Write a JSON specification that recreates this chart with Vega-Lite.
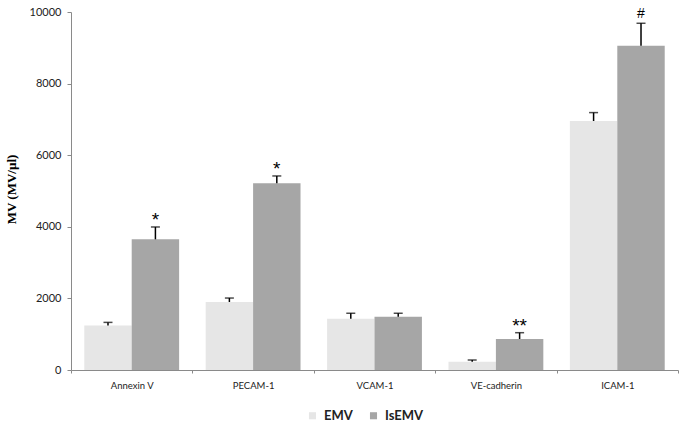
{
  "$schema": "https://vega.github.io/schema/vega-lite/v6.json",
  "autosize": {"type": "none"},
  "padding": {"left": 71, "top": 12, "right": 2, "bottom": 53},
  "width": 607,
  "height": 358,
  "background": "white",
  "config": {"view": {"stroke": null}},
  "data": {
    "values": [
      {"marker": "Annexin V", "group": "EMV", "value": 1240, "upper": 1330, "sig": ""},
      {"marker": "Annexin V", "group": "IsEMV", "value": 3650, "upper": 3995, "sig": "*"},
      {"marker": "PECAM-1", "group": "EMV", "value": 1900, "upper": 2010, "sig": ""},
      {"marker": "PECAM-1", "group": "IsEMV", "value": 5215, "upper": 5420, "sig": "*"},
      {"marker": "VCAM-1", "group": "EMV", "value": 1435, "upper": 1585, "sig": ""},
      {"marker": "VCAM-1", "group": "IsEMV", "value": 1490, "upper": 1585, "sig": ""},
      {"marker": "VE-cadherin", "group": "EMV", "value": 232, "upper": 279, "sig": ""},
      {"marker": "VE-cadherin", "group": "IsEMV", "value": 866, "upper": 1042, "sig": "**"},
      {"marker": "ICAM-1", "group": "EMV", "value": 6955, "upper": 7190, "sig": ""},
      {"marker": "ICAM-1", "group": "IsEMV", "value": 9060, "upper": 9685, "sig": "#"}
    ]
  },
  "encoding": {
    "x": {
      "field": "marker",
      "type": "nominal",
      "sort": ["Annexin V", "PECAM-1", "VCAM-1", "VE-cadherin", "ICAM-1"],
      "scale": {"paddingInner": 0, "paddingOuter": 0},
      "axis": {
        "title": null,
        "labelAngle": 0,
        "labelFont": "Lato",
        "labelFontSize": 9.5,
        "labelColor": "#222",
        "labelPadding": 7,
        "tickBand": "extent",
        "tickSize": 3,
        "tickColor": "#8a8a8a",
        "domainColor": "#8a8a8a",
        "grid": false
      }
    },
    "xOffset": {
      "field": "group",
      "type": "nominal",
      "scale": {"paddingInner": 0, "paddingOuter": 0.28}
    }
  },
  "layer": [
    {
      "mark": {"type": "bar"},
      "encoding": {
        "y": {
          "field": "value",
          "type": "quantitative",
          "scale": {"domain": [0, 10000]},
          "axis": {
            "title": "MV (MV/µl)",
            "titleFont": "Liberation Serif",
            "titleFontSize": 13,
            "titleFontWeight": "bold",
            "titleColor": "black",
            "titleX": -60,
            "titleY": 177,
            "titleAngle": -90,
            "titleBaseline": "middle",
            "titleAlign": "center",
            "values": [0, 2000, 4000, 6000, 8000, 10000],
            "format": "d",
            "labelFont": "Lato",
            "labelFontSize": 11,
            "labelColor": "#222",
            "labelPadding": 6,
            "tickSize": 4,
            "tickColor": "#8a8a8a",
            "domainColor": "#8a8a8a",
            "grid": false
          }
        },
        "color": {
          "field": "group",
          "type": "nominal",
          "scale": {"domain": ["EMV", "IsEMV"], "range": ["#e6e6e6", "#a6a6a6"]},
          "legend": {
            "title": null,
            "orient": "none",
            "direction": "horizontal",
            "legendX": 235,
            "legendY": 397,
            "symbolType": "square",
            "symbolSize": 50,
            "symbolStrokeWidth": 0,
            "labelFont": "Lato",
            "labelFontSize": 13,
            "labelFontWeight": "bold",
            "labelColor": "#222",
            "labelOffset": 5,
            "columnPadding": 14
          }
        }
      }
    },
    {
      "mark": {"type": "rule", "color": "black", "strokeWidth": 1.5},
      "encoding": {
        "y": {"field": "value", "type": "quantitative"},
        "y2": {"field": "upper"}
      }
    },
    {
      "mark": {"type": "tick", "color": "black", "thickness": 1.5, "size": 9, "orient": "horizontal"},
      "encoding": {
        "y": {"field": "upper", "type": "quantitative"}
      }
    },
    {
      "transform": [{"filter": "datum.sig == '*' || datum.sig == '**'"}],
      "mark": {"type": "text", "font": "Liberation Sans", "fontSize": 19, "baseline": "alphabetic", "dy": -1, "color": "black"},
      "encoding": {
        "y": {"field": "upper", "type": "quantitative"},
        "text": {"field": "sig"}
      }
    },
    {
      "transform": [{"filter": "datum.sig == '#'"}],
      "mark": {"type": "text", "font": "Liberation Sans", "fontSize": 14, "baseline": "alphabetic", "dy": -5, "color": "black"},
      "encoding": {
        "y": {"field": "upper", "type": "quantitative"},
        "text": {"field": "sig"}
      }
    }
  ]
}
